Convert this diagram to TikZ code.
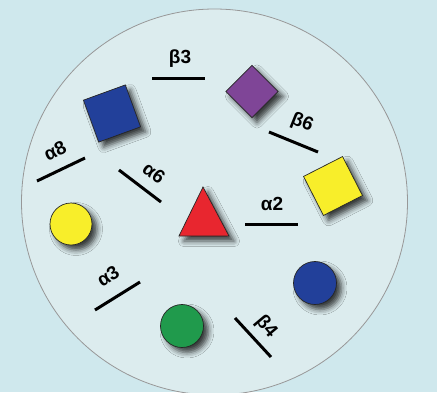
\documentclass[tikz,border=0pt]{standalone}
\usepackage{fontspec}
\setmainfont{Liberation Sans}
\usetikzlibrary{shadows.blur}
\definecolor{bgc}{HTML}{CFE8ED}
\definecolor{discfill}{HTML}{DCECEE}
\definecolor{discedge}{HTML}{989898}
\definecolor{sqblue}{HTML}{22409A}
\definecolor{sqpurple}{HTML}{7F4597}
\definecolor{shyellow}{HTML}{F8EE2A}
\definecolor{shred}{HTML}{E8262F}
\definecolor{shgreen}{HTML}{209A4C}
\begin{document}
\begin{tikzpicture}[x=1pt,y=-1pt,
  seg/.style={line width=3pt, black},
  lbl/.style={font=\fontsize{19}{22}\selectfont\bfseries, inner sep=0pt},
  shp/.style={draw=black!85, line width=0.7pt, inner sep=0pt,
    blur shadow={shadow xshift=5pt, shadow yshift=-5pt, shadow blur radius=5.5pt, shadow opacity=75}},
]
\useasboundingbox (0,0) rectangle (437,392);
\fill[bgc] (0,0) rectangle (437,392);
\begin{scope}
\clip (0,0) rectangle (437,392);
\draw[fill=discfill, draw=discedge, line width=0.8pt] (214.5,202) circle[radius=193];
\end{scope}

% shapes
\node[shp, fill=sqblue, minimum size=44.6pt, rotate=20] (bsq) at (112,113.5) {};
\node[shp, fill=sqpurple, minimum size=37pt, rotate=45] (psq) at (252,91.5) {};
\node[shp, fill=shyellow, minimum size=43.8pt, rotate=27] (ysq) at (333,186) {};
\node[shp, circle, fill=shyellow, minimum size=42pt] (yc) at (71,224) {};
\node[shp, circle, fill=shgreen, minimum size=43pt] (gc) at (182,326) {};
\node[shp, circle, fill=sqblue, minimum size=43pt] (bc) at (315,283) {};
\coordinate (t1) at (203,187);
\coordinate (t2) at (179,236);
\coordinate (t3) at (229,236);
\path[shp, fill=shred] (t1) -- (t2) -- (t3) -- cycle;

% segments
\coordinate (b3a) at (152,78);  \coordinate (b3b) at (205,78);
\coordinate (b6a) at (269,132); \coordinate (b6b) at (318,152);
\coordinate (a8a) at (37,181);  \coordinate (a8b) at (85,158);
\coordinate (a6a) at (119,170); \coordinate (a6b) at (161,202);
\coordinate (a2a) at (245,224); \coordinate (a2b) at (298,224);
\coordinate (a3a) at (95,310);  \coordinate (a3b) at (140,282);
\coordinate (b4a) at (235,318); \coordinate (b4b) at (271,357);
\draw[seg] (b3a) -- (b3b);
\draw[seg] (b6a) -- (b6b);
\draw[seg] (a8a) -- (a8b);
\draw[seg] (a6a) -- (a6b);
\draw[seg] (a2a) -- (a2b);
\draw[seg] (a3a) -- (a3b);
\draw[seg] (b4a) -- (b4b);

% labels
\node[lbl] (lb3) at (180,59) {β3};
\node[lbl, rotate=-22] (lb6) at (302,123) {β6};
\node[lbl, rotate=26] (la8) at (55,151) {α8};
\node[lbl, rotate=-37] (la6) at (154,173) {α6};
\node[lbl] (la2) at (272,204) {α2};
\node[lbl, rotate=32] (la3) at (108,276) {α3};
\node[lbl, rotate=-50] (lb4) at (266,327) {β4};
\end{tikzpicture}
\end{document}
